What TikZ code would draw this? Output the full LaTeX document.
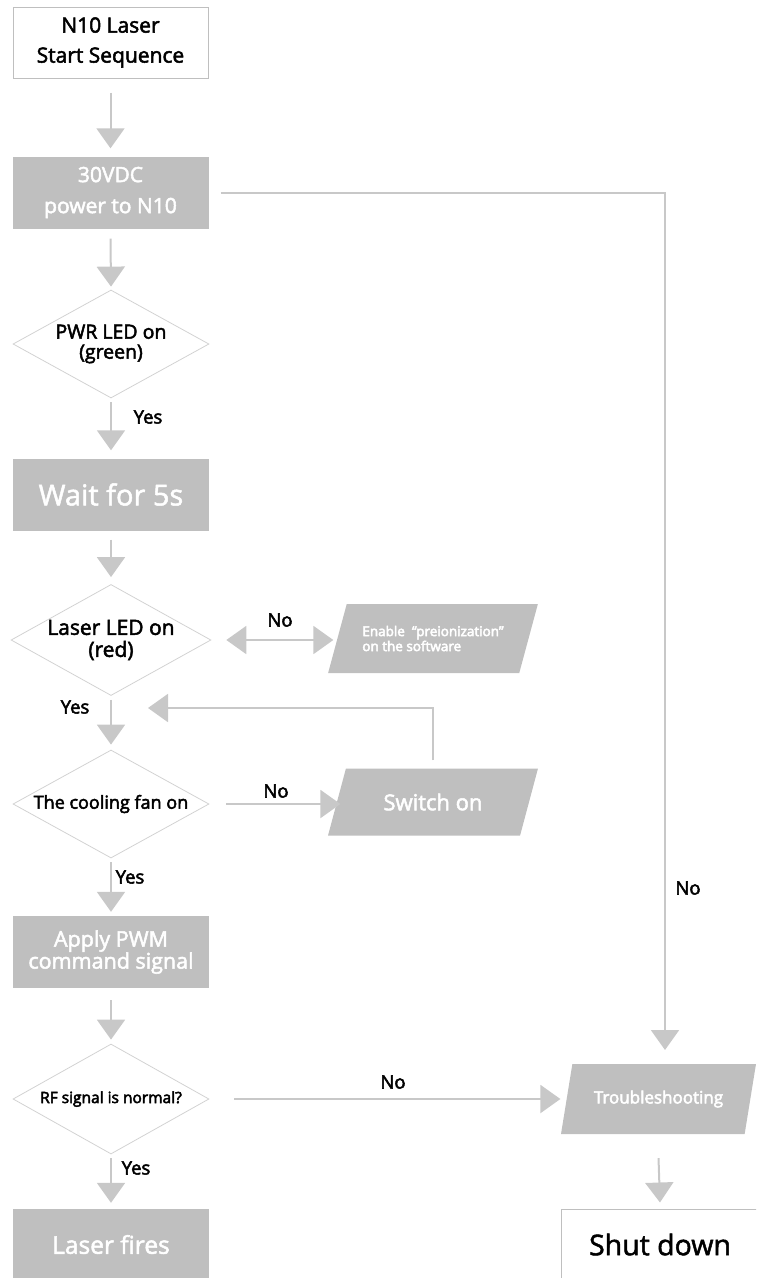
\documentclass[tikz,border=0pt]{standalone}
\usepackage{fontspec}
\setmainfont{Open Sans}
\usetikzlibrary{arrows.meta,shapes.geometric}
\definecolor{boxg}{HTML}{BFBFBF}
\definecolor{lineg}{HTML}{C8C8C8}
\definecolor{edgeg}{HTML}{D2D2D2}
\newcommand\heavytext{\special{pdf:literal direct 2 Tr 0.5 w}}
\begin{document}
\begin{tikzpicture}[x=1pt,y=-1pt,
 every node/.append style={execute at begin node=\heavytext},
 greybox/.style={rectangle, fill=boxg, minimum width=196pt, minimum height=72pt, text=white, align=center, inner sep=0pt},
 whitebox/.style={rectangle, draw=boxg, line width=1pt, fill=white, minimum width=195pt, minimum height=71pt, align=center, inner sep=0pt},
 decision/.style={diamond, draw=edgeg, line width=0.8pt, minimum width=196pt, minimum height=108pt, aspect=1.8, inner sep=0pt, align=center},
 io/.style={trapezium, trapezium left angle=59, trapezium right angle=121, trapezium stretches=true, fill=boxg, minimum width=210pt, minimum height=69pt, text=white, inner sep=0pt},
 flow/.style={draw=lineg, line width=2pt, -{Triangle[length=20pt,width=28pt]}},
 dflow/.style={draw=lineg, line width=2pt, {Triangle[length=20pt,width=28pt]}-{Triangle[length=20pt,width=28pt]}},
 lbl/.style={font=\fontsize{18.5}{20}\selectfont, inner sep=0pt}
]
\useasboundingbox (0,0) rectangle (756,1278);
\clip (0,0) rectangle (756,1278);

% nodes
\node[whitebox, font=\fontsize{21}{30}\selectfont] (start) at (110.5,42.5) {N10 Laser\\Start Sequence};
\node[greybox, font=\fontsize{21}{31}\selectfont] (pwr) at (110.5,192.5) {30VDC\\power to N10};
\node[decision, font=\fontsize{19.5}{20}\selectfont] (pled) at (111,344) {PWR LED on\\(green)};
\node[greybox, font=\fontsize{29}{32}\selectfont] (wait) at (111,494.5) {Wait for 5s};
\node[decision, font=\fontsize{21}{22}\selectfont] (lled) at (111,640) {Laser LED on\\(red)};
\node[io, font=\fontsize{13.5}{15}\selectfont, align=left] (enable) at (433,638.5) {Enable \ “preionization”\\on the software};
\node[decision, font=\fontsize{18}{20}\selectfont] (fan) at (111,804) {The cooling fan on};
\node[io, minimum height=67pt, font=\fontsize{22}{26}\selectfont] (switch) at (433,802) {Switch on};
\node[greybox, font=\fontsize{21.5}{22}\selectfont] (apply) at (111,952) {Apply PWM\\command signal};
\node[decision, minimum height=110pt, font=\fontsize{15.5}{17}\selectfont] (rf) at (111,1099) {RF signal is normal?};
\node[io, trapezium left angle=63.4, trapezium right angle=116.6, minimum width=195pt, minimum height=70pt, font=\fontsize{17}{19}\selectfont] (trouble) at (658.5,1099) {Troubleshooting};
\node[greybox, minimum height=71pt, font=\fontsize{24.5}{30}\selectfont] (fires) at (111,1244.5) {Laser fires};
\node[whitebox, minimum width=197pt, font=\fontsize{28.5}{32}\selectfont] (shut) at (660,1244.5) {Shut down};

\coordinate (fb) at (148,708);
\coordinate (tr) at (665,1050);

% connectors
\draw[flow] ([yshift=-14pt]start.south) -- ([yshift=8pt]pwr.north);
\draw[flow] ([yshift=-10pt]pwr.south) -- ([yshift=3pt]pled.north);
\draw[flow] ([yshift=-4pt]pled.south) -- ([yshift=8pt]wait.north);
\draw[flow] ([yshift=-9pt]wait.south) -- ([yshift=7pt]lled.north);
\draw[dflow] ([xshift=15pt]lled.east) -- ([xshift=122pt]lled.east);
\draw[flow] ([yshift=-4pt]lled.south) -- ([yshift=5pt]fan.north);
\draw[flow] ([xshift=17pt]fan.east) -- ([xshift=131pt]fan.east);
\draw[flow] ([yshift=8pt]switch.north) |- (fb);
\draw[flow] ([yshift=-4pt]fan.south) -- ([yshift=4pt]apply.north);
\draw[flow] ([yshift=-12pt]apply.south) -- ([yshift=4pt]rf.north);
\draw[flow] ([xshift=25pt]rf.east) -- ([xshift=351pt]rf.east);
\draw[flow] ([yshift=-4pt]rf.south) -- ([yshift=6pt]fires.north);
\draw[flow] ([xshift=12pt]pwr.east) -| (tr);
\draw[flow] ([yshift=-24pt]trouble.south) -- ([yshift=6pt]shut.north);

% labels
\node[lbl] (y1) at (148,417) {Yes};
\node[lbl] (n1) at (280,620) {No};
\node[lbl] (y2) at (75,707) {Yes};
\node[lbl] (n2) at (276,791) {No};
\node[lbl] (y3) at (130,877) {Yes};
\node[lbl] (n3) at (393,1082) {No};
\node[lbl] (y4) at (136,1168) {Yes};
\node[lbl] (n4) at (688,888) {No};
\end{tikzpicture}
\end{document}
